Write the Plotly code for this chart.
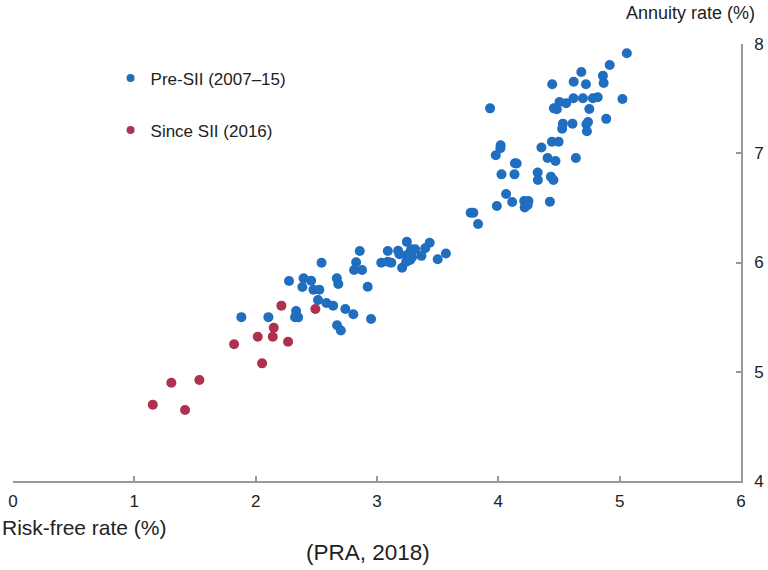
import plotly.graph_objects as go

# Pre-SII (2007-15): risk-free rate (%) and annuity rate (%)
pre_x = [1.882, 2.105, 2.275, 2.395, 2.385, 2.457, 2.476, 2.525, 2.514, 2.543,
         2.333, 2.325, 2.350, 2.583, 2.638, 2.669, 2.681, 2.739, 2.805, 2.671,
         2.702, 2.858, 2.828, 2.811, 2.877, 2.923, 2.951, 3.089, 3.035, 3.089,
         3.118, 3.246, 3.174, 3.185, 3.281, 3.314, 3.248, 3.289, 3.366, 3.397,
         3.434, 3.207, 3.240, 3.273, 3.500, 3.568, 3.772, 3.794, 3.833, 3.932,
         4.019, 4.017, 3.979, 4.137, 4.151, 4.026, 4.133, 4.064, 4.114, 3.988,
         4.213, 4.248, 4.217, 4.242, 4.355, 4.406, 4.471, 4.324, 4.326, 4.433,
         4.454, 4.425, 4.442, 4.497, 4.532, 4.526, 4.611, 4.726, 4.739, 4.730,
         4.639, 4.750, 4.889, 4.458, 4.482, 4.504, 4.559, 4.619, 4.697, 4.779,
         4.819, 5.023, 4.444, 4.621, 4.722, 4.684, 4.862, 4.868, 4.918, 5.059]
pre_y = [5.50, 5.50, 5.83, 5.855, 5.776, 5.833, 5.751, 5.751, 5.657, 5.998,
         5.556, 5.50, 5.498, 5.629, 5.605, 5.855, 5.803, 5.574, 5.527, 5.425,
         5.378, 6.105, 6.002, 5.931, 5.931, 5.778, 5.483, 6.105, 5.998, 6.007,
         5.998, 6.189, 6.107, 6.076, 6.121, 6.121, 6.069, 6.048, 6.061, 6.130,
         6.181, 5.952, 6.006, 6.023, 6.029, 6.082, 6.456, 6.456, 6.352, 7.411,
         7.074, 7.046, 6.981, 6.909, 6.906, 6.807, 6.807, 6.627, 6.554, 6.517,
         6.563, 6.563, 6.503, 6.526, 7.053, 6.957, 6.929, 6.824, 6.755, 6.785,
         6.755, 6.557, 7.106, 7.105, 7.271, 7.225, 7.271, 7.265, 7.286, 7.202,
         6.957, 7.405, 7.315, 7.411, 7.402, 7.469, 7.457, 7.503, 7.503, 7.503,
         7.512, 7.497, 7.631, 7.655, 7.631, 7.744, 7.710, 7.643, 7.808, 7.915]

# Since SII (2016)
post_x = [1.152, 1.418, 1.305, 1.536, 1.822, 2.053, 2.017, 2.141, 2.149, 2.267, 2.212, 2.492]
post_y = [4.698, 4.650, 4.900, 4.924, 5.251, 5.077, 5.321, 5.321, 5.403, 5.275, 5.605, 5.574]

series_names = ["Pre-SII (2007\u201315)", "Since SII (2016)"]
x_ticks = [0, 1, 2, 3, 4, 5, 6]
y_ticks = [4, 5, 6, 7, 8]

BLUE = "#1F6EBF"
RED = "#AE3150"
FONT = "Liberation Sans, Arial, sans-serif"
AXIS = "#999999"
TXT = "#222222"

fig = go.Figure()
fig.add_trace(go.Scatter(x=pre_x, y=pre_y, mode="markers", showlegend=False,
                         marker=dict(color=BLUE, size=10, line=dict(width=0))))
fig.add_trace(go.Scatter(x=post_x, y=post_y, mode="markers", showlegend=False,
                         marker=dict(color=RED, size=10, line=dict(width=0))))
# legend entries
fig.add_trace(go.Scatter(x=[None], y=[None], mode="markers", name=series_names[0],
                         marker=dict(color=BLUE, size=8), legend="legend"))
fig.add_trace(go.Scatter(x=[None], y=[None], mode="markers", name=series_names[1],
                         marker=dict(color=RED, size=8), legend="legend2"))

fig.update_layout(
    width=768, height=570,
    margin=dict(l=13, r=27, t=44, b=89),
    paper_bgcolor="white", plot_bgcolor="white",
    font=dict(family=FONT, size=17, color=TXT),
    legend=dict(x=0.134, y=0.921, xanchor="left", yanchor="middle",
                bgcolor="rgba(0,0,0,0)", font=dict(size=17), itemwidth=30),
    legend2=dict(x=0.134, y=0.802, xanchor="left", yanchor="middle",
                 bgcolor="rgba(0,0,0,0)", font=dict(size=17), itemwidth=30),
    xaxis=dict(range=[0, 6], tickvals=x_ticks, showgrid=False, zeroline=False,
               showline=True, linecolor=AXIS, linewidth=1.5, automargin=False,
               ticks="inside", ticklen=5, tickcolor=AXIS, tickwidth=1.5,
               ticklabelstandoff=4, tickfont=dict(size=17, color=TXT)),
    yaxis=dict(range=[4, 8], tickvals=y_ticks, side="right", showgrid=False,
               zeroline=False, showline=True, linecolor=AXIS, linewidth=1.5,
               automargin=False,
               ticks="inside", ticklen=5, tickcolor=AXIS, tickwidth=1.5,
               ticklabelstandoff=8, tickfont=dict(size=17, color=TXT)),
    annotations=[
        dict(text="Annuity rate (%)", xref="paper", yref="paper", x=1.022, y=1.0,
             yshift=31, xanchor="right", yanchor="middle", showarrow=False,
             font=dict(size=18, color=TXT)),
        dict(text="Risk-free rate (%)", xref="paper", yref="paper", x=-0.0179, y=0,
             yshift=-46, xanchor="left", yanchor="middle", showarrow=False,
             font=dict(size=21, color=TXT)),
        dict(text="(PRA, 2018)", xref="paper", yref="paper", x=0.487, y=0,
             yshift=-71, xanchor="center", yanchor="middle",
             showarrow=False, font=dict(size=22.5, color=TXT)),
    ],
)

# remove the default 8px page margin so the figure sits at the window's corner
fig.write_html("out.html",
               config={"displayModeBar": False},
               post_script="document.body.style.margin='0';document.body.style.padding='0';")
